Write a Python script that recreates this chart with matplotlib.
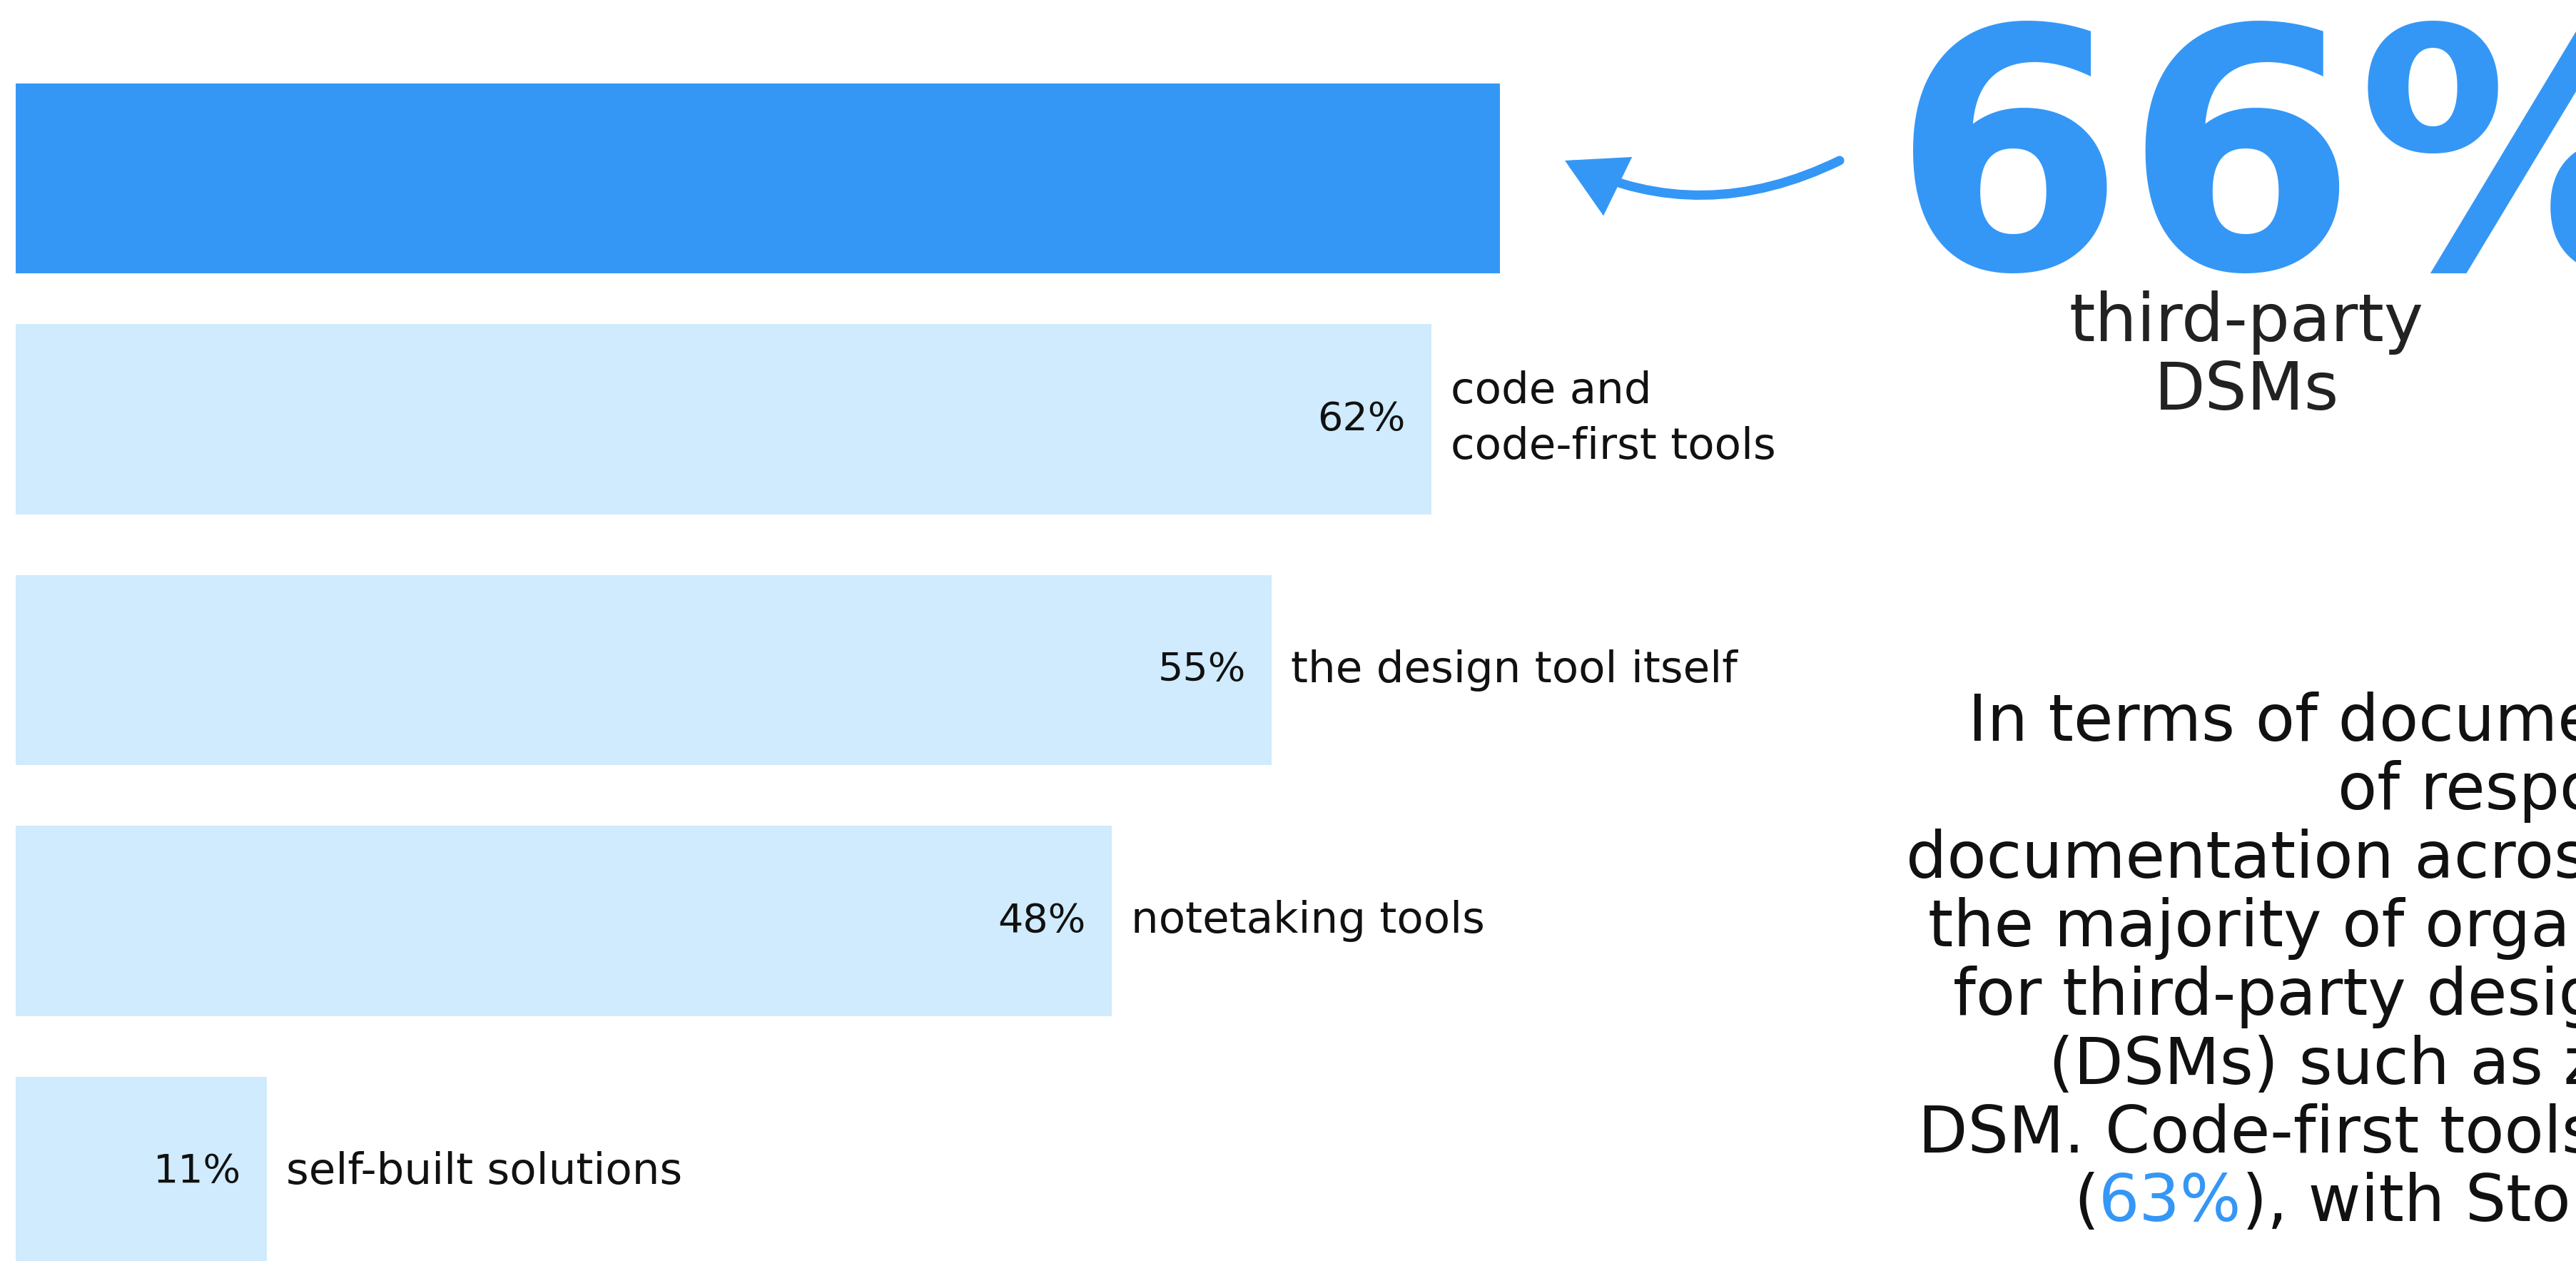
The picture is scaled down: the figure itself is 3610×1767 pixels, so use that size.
import matplotlib.pyplot as plt
from matplotlib.patches import FancyArrowPatch
from matplotlib.transforms import Affine2D, offset_copy

# data
categories = ["third-party DSMs", "code and\ncode-first tools", "the design tool itself",
              "notetaking tools", "self-built solutions"]
values = [65, 62, 55, 48, 11]
headline = "66%"
headline_label = ["third-party", "DSMs"]
paragraph = [
    "In terms of documentation, most",
    "of respondents spread their",
    "documentation across several tools;",
    "the majority of organizations opt",
    "for third-party design system managers",
    "(DSMs) such as zeroheight as their",
    "DSM. Code-first tools come second",
]
last_line = ["(", "63%", "), with Storybook leading."]

BLUE = "#3597F5"
LIGHT = "#CFEBFD"
INK = "#111111"

W, H = 3610, 1767
fig = plt.figure(figsize=(W / 100, H / 100), dpi=100)
ax = fig.add_axes([0, 0, 1, 1])
ax.axis("off")

# bars
pos = [0.04, 1, 2, 3, 4]
colors = [BLUE] + [LIGHT] * 4
ax.barh(pos, values, height=0.757, color=colors, linewidth=0)
ax.set_xlim(-22 / 32, (W - 22) / 32)
ax.set_ylim(1 + (H - 587.5) / 351.5, 1 - 587.5 / 351.5)

inside = offset_copy(ax.transData, fig=fig, x=-36, y=0, units="dots")
outside = offset_copy(ax.transData, fig=fig, x=27, y=0, units="dots")
for p, v, c in zip(pos[1:], values[1:], categories[1:]):
    ax.text(v, p, f"{v}%", transform=inside, ha="right", va="center",
            fontsize=40, color=INK)
    ax.text(v, p, c, transform=outside, ha="left", va="center",
            fontsize=44, linespacing=1.4, color=INK)

# pixel coords, origin top-left
pix = Affine2D().scale(1 / W, -1 / H).translate(0, 1) + fig.transFigure

fig.text(2652, 376, headline, transform=pix, fontsize=337, fontweight="bold",
         color=BLUE, ha="left", va="baseline")
fig.text(3148, 478, headline_label[0], transform=pix, fontsize=67,
         color="#222222", ha="center", va="baseline")
fig.text(3148, 574, headline_label[1], transform=pix, fontsize=67,
         color="#222222", ha="center", va="baseline")

arrow = FancyArrowPatch(posA=(2578, 225), posB=(2193, 225), transform=pix,
                        arrowstyle="-|>,head_length=0.9,head_width=0.5",
                        mutation_scale=50, connectionstyle="arc3,rad=-0.244",
                        color=BLUE, lw=9.4, capstyle="round", joinstyle="miter",
                        shrinkA=0, shrinkB=0)
fig.add_artist(arrow)

# paragraph, clipped by the right edge
lefts = [2758, 3276, 2671, 2702, 2737, 2871, 2688]
for i, (line, x) in enumerate(zip(paragraph, lefts)):
    fig.text(x, 1038 + i * 96.1, line, transform=pix, fontsize=65, color=INK,
             ha="left", va="baseline")

renderer = fig.canvas.get_renderer()
x = 2906
y = 1038 + 7 * 96.1
for part in last_line:
    t = fig.text(x, y, part, transform=pix, fontsize=65, ha="left", va="baseline",
                 color=BLUE if part == "63%" else INK)
    x = t.get_window_extent(renderer).x1

fig.savefig("out.png", dpi=100)
